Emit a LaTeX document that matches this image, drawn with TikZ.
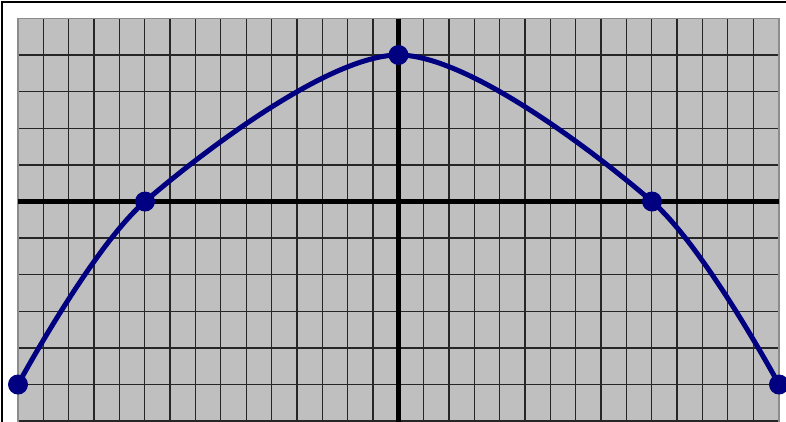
\documentclass[tikz,border=0pt]{standalone}
\begin{document}
\begin{tikzpicture}[x=1pt,y=-1pt,
  gridline/.style={line width=1.3pt,black!85},
  axisline/.style={line width=5pt,black},
  curveline/.style={line width=5pt,color={rgb,255:red,0;green,0;blue,128},line cap=round},
  dot/.style={circle,fill={rgb,255:red,0;green,0;blue,128},inner sep=0pt,minimum size=20pt}]
\useasboundingbox (0,0) rectangle (786,421);
\clip (0,0) rectangle (786,421);
\fill[white] (0,0) rectangle (786,421);
\draw[line width=1.5pt,black] (2,2) rectangle (900,500);
% gray plotting area
\fill[black!25] (18,18.5) rectangle (779,500);
\foreach \i in {1,...,29} \draw[gridline] (18+25.35*\i,18.5) -- (18+25.35*\i,500);
\foreach \j in {1,...,11} \draw[gridline] (18,18.5+36.6*\j) -- (779,18.5+36.6*\j);
\draw[line width=1.5pt,black!45] (18,500) -- (18,18.5) -- (779,18.5) -- (779,500);
% axes
\draw[axisline] (18,201.5) -- (779,201.5);
\draw[axisline] (398.5,18.5) -- (398.5,500);
% curve points
\coordinate (p1) at (18,384.5);
\coordinate (p2) at (145,201.5);
\coordinate (p3) at (398.5,55);
\coordinate (p4) at (652,201.5);
\coordinate (p5) at (779,384.5);
\draw[curveline] plot[smooth] coordinates {(p1) (p2) (p3) (p4) (p5)};
\foreach \p in {p1,p2,p3,p4,p5} \node[dot] (d\p) at (\p) {};
\end{tikzpicture}
\end{document}
